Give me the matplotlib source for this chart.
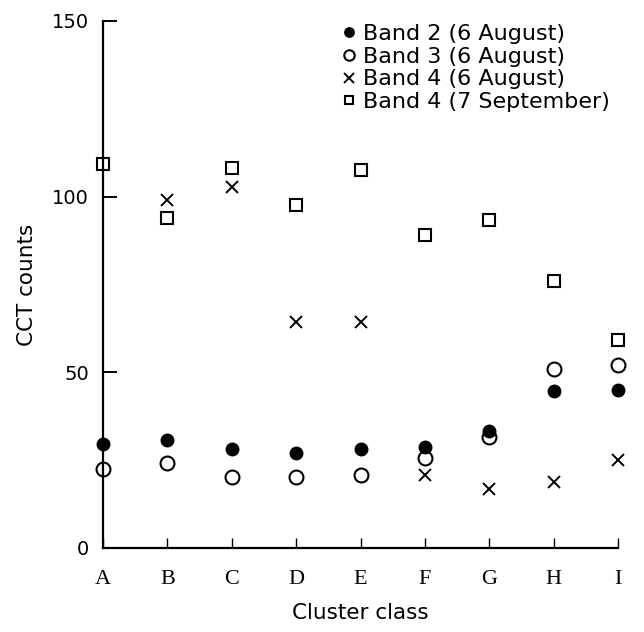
import numpy as np
import matplotlib.pyplot as plt

classes = ["A", "B", "C", "D", "E", "F", "G", "H", "I"]
band2_aug = [29.5, 30.7, 28.1, 27.0, 28.1, 28.7, 33.2, 44.6, 44.9]
band3_aug = [22.4, 24.1, 20.2, 20.2, 20.7, 25.6, 31.5, 50.8, 52.0]
band4_aug = [np.nan, 98.9, 102.8, 64.2, 64.2, 20.7, 16.8, 18.7, 25.0]
band4_sep = [109.4, 94.0, 108.2, 97.7, 107.6, 89.2, 93.4, 76.1, 59.1]

x = np.arange(len(classes))

fig = plt.figure(figsize=(6.44, 6.32), dpi=100)
ax = fig.add_axes([0.16, 0.133, 0.80, 0.834])

ax.plot(x, band3_aug, "o", mfc="white", mec="black", mew=1.5, ms=10,
        clip_on=False, label="Band 3 (6 August)")
ax.plot(x, band2_aug, "o", mfc="black", mec="black", ms=9,
        clip_on=False, label="Band 2 (6 August)")
ax.plot(x, band4_aug, "x", color="black", mew=1.4, ms=9,
        clip_on=False, label="Band 4 (6 August)")
ax.plot(x, band4_sep, "s", mfc="white", mec="black", mew=1.5, ms=8,
        clip_on=False, label="Band 4 (7 September)")

ax.set_xlim(0, 8)
ax.set_ylim(0, 150)
ax.spines["top"].set_visible(False)
ax.spines["right"].set_visible(False)
ax.spines["left"].set_linewidth(1.6)
ax.spines["bottom"].set_linewidth(1.6)

ax.set_yticks([0, 50, 100, 150])
ax.tick_params(axis="y", direction="in", length=10, width=1.4, pad=10,
               labelsize=14)
ax.set_xticks(x)
ax.set_xticklabels(classes, family="Liberation Serif", fontsize=16)
ax.tick_params(axis="x", direction="in", length=7, width=1.0, pad=16)

ax.set_xlabel("Cluster class", fontsize=15.5, labelpad=10)
ax.set_ylabel("CCT counts", fontsize=15.5, labelpad=11)

# legend order as printed in the key
handles, labels = ax.get_legend_handles_labels()
order = [1, 0, 2, 3]
ax.legend([handles[i] for i in order], [labels[i] for i in order],
          loc="upper left", bbox_to_anchor=(342 / 644, 1 - 24 / 632),
          bbox_transform=fig.transFigure, frameon=False, fontsize=16,
          handlelength=0.6, handletextpad=0.35, labelspacing=0.12,
          markerscale=0.75, borderaxespad=0, borderpad=0)

fig.savefig("out.png", dpi=100)
